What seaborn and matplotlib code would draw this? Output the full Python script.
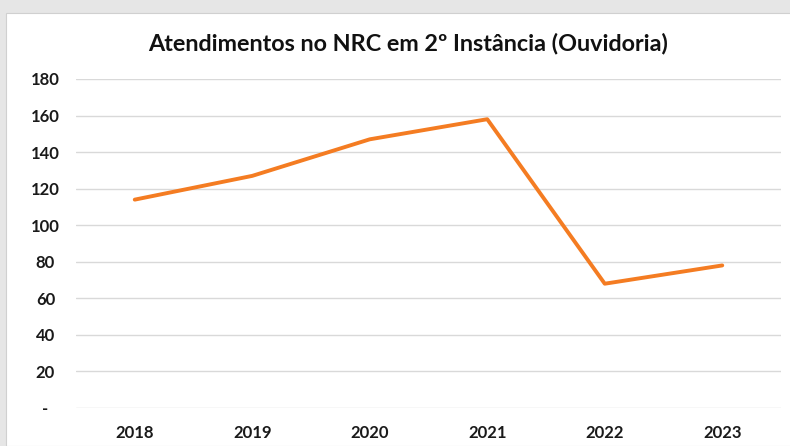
import matplotlib
matplotlib.use("Agg")
import matplotlib.pyplot as plt
import seaborn as sns
import pandas as pd
from matplotlib.patches import Rectangle

# data
years = ["2018", "2019", "2020", "2021", "2022", "2023"]
atendimentos = [114, 127, 147, 158, 68, 78]
y_ticks = [0, 20, 40, 60, 80, 100, 120, 140, 160, 180]
y_labels = ["-"] + [str(v) for v in y_ticks[1:]]

df = pd.DataFrame({"ano": years, "atendimentos": atendimentos})

sns.set_theme(style="white")
plt.rcParams["font.family"] = ["Lato", "DejaVu Sans"]

fig = plt.figure(figsize=(7.9, 4.46), dpi=100)
fig.patch.set_facecolor("#e6e6e6")
# white chart card with a screenshot-like shadow on top/left
fig.patches.append(Rectangle((6 / 790, 0), 1, 1 - 13 / 446, transform=fig.transFigure,
                             facecolor="white", edgecolor="#d0d0d0", lw=0.8, zorder=-5))

ax = fig.add_axes([76 / 790, 1 - 408 / 446, 705 / 790, (408 - 79) / 446])
ax.set_facecolor("none")

sns.lineplot(data=df, x="ano", y="atendimentos", ax=ax, color="#f47c22",
             linewidth=2.8, sort=False)

ax.set_xlim(-0.5, len(years) - 0.5)
ax.set_ylim(0, 180)
ax.set_yticks(y_ticks)
ax.set_yticklabels(y_labels)
ax.yaxis.grid(True, color="#d9d9d9", linewidth=1)
ax.set_axisbelow(True)
for s in ax.spines.values():
    s.set_visible(False)
ax.set_xlabel("")
ax.set_ylabel("")
ax.tick_params(axis="both", length=0, labelsize=12)
ax.tick_params(axis="y", pad=22)
ax.tick_params(axis="x", pad=12)
for lbl in ax.get_xticklabels() + ax.get_yticklabels():
    lbl.set_fontweight("bold")
    lbl.set_color("#1a1a1a")
for lbl in ax.get_yticklabels():
    lbl.set_horizontalalignment("center")

fig.text(408 / 790, 1 - 43 / 446, "Atendimentos no NRC em 2º Instância (Ouvidoria)",
         ha="center", va="center", fontsize=16.8, fontweight="bold", color="#111111")

fig.savefig("out.png", dpi=100)
